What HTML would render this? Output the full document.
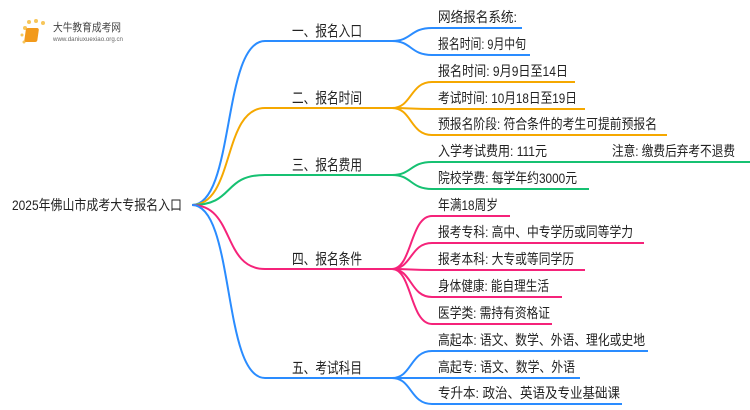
<!DOCTYPE html>
<html><head><meta charset="utf-8"><style>
html,body{margin:0;padding:0;background:#fff;width:750px;height:410px;overflow:hidden}
svg{display:block}
text{font-family:"Liberation Sans","Noto Sans CJK SC",sans-serif;fill:#222}
</style></head><body>
<svg width="750" height="410" viewBox="0 0 750 410" xmlns="http://www.w3.org/2000/svg">
<g>
<circle cx="25" cy="28" r="2" fill="#f7c65a"/><circle cx="29" cy="22" r="2" fill="#f7c65a"/><circle cx="36" cy="21" r="2" fill="#f7c65a"/><circle cx="43" cy="23" r="2" fill="#f7c65a"/><circle cx="22" cy="35" r="1.5" fill="#f7c65a"/><circle cx="24" cy="42" r="1.5" fill="#f7c65a"/>
<rect x="30" y="28" width="13" height="14" rx="2" fill="#f29a1c" transform="skewX(-8)"/>
<text x="53" y="31" font-size="11" textLength="68" lengthAdjust="spacingAndGlyphs" style="fill:#444">大牛教育成考网</text>
<text x="53" y="41" font-size="6" textLength="70" lengthAdjust="spacingAndGlyphs" style="fill:#666">www.daniuxuexiao.org.cn</text>
</g>
<text x="12" y="210" font-size="14" textLength="170" lengthAdjust="spacingAndGlyphs">2025年佛山市成考大专报名入口</text>
<g fill="none" stroke-width="2">
<path d="M192 205 C235 205,222 41,265 41 L392 41" stroke="#2a8cff"/>
<path d="M192 205 C235 205,222 108,265 108 L392 108" stroke="#f5a800"/>
<path d="M192 205 C235 205,222 175,265 175 L392 175" stroke="#16c172"/>
<path d="M192 205 C235 205,222 269,265 269 L392 269" stroke="#f5237a"/>
<path d="M192 205 C235 205,222 378,265 378 L392 378" stroke="#2a8cff"/>
<path d="M392 41 C412 41,410 28,432 28 L522 28" stroke="#2a8cff"/>
<path d="M392 41 C412 41,410 55,432 55 L530 55" stroke="#2a8cff"/>
<path d="M392 108 C412 108,410 82,432 82 L575 82" stroke="#f5a800"/>
<path d="M392 108 C412 108,410 109,432 109 L585 109" stroke="#f5a800"/>
<path d="M392 108 C412 108,410 135,432 135 L667 135" stroke="#f5a800"/>
<path d="M392 175 C412 175,410 162,432 162 L750 162" stroke="#16c172"/>
<path d="M392 175 C412 175,410 189,432 189 L589 189" stroke="#16c172"/>
<path d="M392 269 C412 269,410 216,432 216 L510 216" stroke="#f5237a"/>
<path d="M392 269 C412 269,410 243,432 243 L644 243" stroke="#f5237a"/>
<path d="M392 269 C412 269,410 270,432 270 L585 270" stroke="#f5237a"/>
<path d="M392 269 C412 269,410 297,432 297 L562 297" stroke="#f5237a"/>
<path d="M392 269 C412 269,410 324,432 324 L552 324" stroke="#f5237a"/>
<path d="M392 378 C412 378,410 351,432 351 L648 351" stroke="#2a8cff"/>
<path d="M392 378 C412 378,410 378,432 378 L580 378" stroke="#2a8cff"/>
<path d="M392 378 C412 378,410 404,432 404 L622 404" stroke="#2a8cff"/>
</g>
<g font-size="15" lengthAdjust="spacingAndGlyphs">
<text x="292" y="36" textLength="70" lengthAdjust="spacingAndGlyphs">一、报名入口</text>
<text x="292" y="103" textLength="70" lengthAdjust="spacingAndGlyphs">二、报名时间</text>
<text x="292" y="170" textLength="70" lengthAdjust="spacingAndGlyphs">三、报名费用</text>
<text x="292" y="264" textLength="70" lengthAdjust="spacingAndGlyphs">四、报名条件</text>
<text x="292" y="373" textLength="70" lengthAdjust="spacingAndGlyphs">五、考试科目</text>
</g>
<g font-size="14">
<text x="438" y="22" textLength="79" lengthAdjust="spacingAndGlyphs">网络报名系统:</text>
<text x="438" y="49" textLength="88" lengthAdjust="spacingAndGlyphs">报名时间: 9月中旬</text>
<text x="438" y="76" textLength="130" lengthAdjust="spacingAndGlyphs">报名时间: 9月9日至14日</text>
<text x="438" y="103" textLength="139" lengthAdjust="spacingAndGlyphs">考试时间: 10月18日至19日</text>
<text x="438" y="129" textLength="219" lengthAdjust="spacingAndGlyphs">预报名阶段: 符合条件的考生可提前预报名</text>
<text x="438" y="156" textLength="109" lengthAdjust="spacingAndGlyphs">入学考试费用: 111元</text>
<text x="612" y="156" textLength="123" lengthAdjust="spacingAndGlyphs">注意: 缴费后弃考不退费</text>
<text x="438" y="183" textLength="139" lengthAdjust="spacingAndGlyphs">院校学费: 每学年约3000元</text>
<text x="438" y="210" textLength="60" lengthAdjust="spacingAndGlyphs">年满18周岁</text>
<text x="438" y="237" textLength="195" lengthAdjust="spacingAndGlyphs">报考专科: 高中、中专学历或同等学力</text>
<text x="438" y="264" textLength="136" lengthAdjust="spacingAndGlyphs">报考本科: 大专或等同学历</text>
<text x="438" y="291" textLength="111" lengthAdjust="spacingAndGlyphs">身体健康: 能自理生活</text>
<text x="438" y="318" textLength="112" lengthAdjust="spacingAndGlyphs">医学类: 需持有资格证</text>
<text x="438" y="345" textLength="207" lengthAdjust="spacingAndGlyphs">高起本: 语文、数学、外语、理化或史地</text>
<text x="438" y="372" textLength="137" lengthAdjust="spacingAndGlyphs">高起专: 语文、数学、外语</text>
<text x="438" y="398" textLength="182" lengthAdjust="spacingAndGlyphs">专升本: 政治、英语及专业基础课</text>
</g>
</svg>
</body></html>
